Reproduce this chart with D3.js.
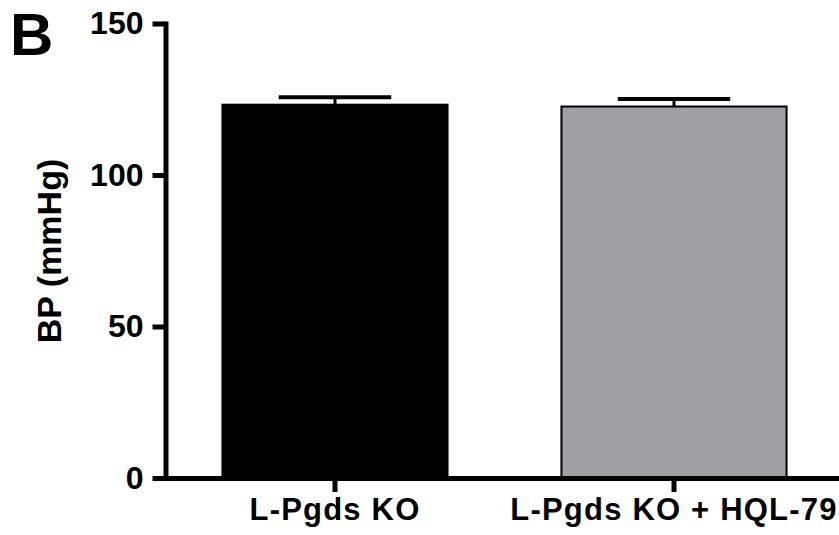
<!DOCTYPE html>
<html>
<head>
<meta charset="utf-8">
<script src="https://cdn.jsdelivr.net/npm/d3@7"></script>
<style>
  body { margin: 0; background: #fff; }
  text { font-family: "Liberation Sans", Arial, sans-serif; font-weight: bold; }
</style>
</head>
<body>
<div id="graphic"></div>
<script>
const groups = ["L-Pgds KO", "L-Pgds KO + HQL-79"]
const means = [123.2, 122.6]
const sems = [2.5, 2.5]
const yTicks = [0, 50, 100, 150]

const width = 839, height = 535

const svg = d3.select("#graphic")
    .append("svg")
    .attr("width", width)
    .attr("height", height)

const x = d3.scaleBand()
    .domain(groups)
    .range([165.5, 843.5])
    .paddingInner(0.336)
    .paddingOuter(0.168)

const y = d3.scaleLinear()
    .domain([0, 150])
    .range([478, 23.5])

const color = d3.scaleOrdinal()
    .domain(groups)
    .range(["#000000", "#a09fa3"])

const data = groups.map((g, i) => ({ group: g, mean: means[i], sem: sems[i] }))

// bars
svg.append("g")
    .selectAll("rect")
    .data(data)
    .join("rect")
    .attr("x", d => x(d.group))
    .attr("y", d => y(d.mean))
    .attr("width", x.bandwidth())
    .attr("height", d => y(0) - y(d.mean))
    .attr("fill", d => color(d.group))
    .attr("stroke", "#000")
    .attr("stroke-width", 2)

// error bars (upper only)
const err = svg.append("g").attr("stroke", "#000")
err.selectAll("line.stem")
    .data(data)
    .join("line")
    .attr("class", "stem")
    .attr("x1", d => x(d.group) + x.bandwidth() / 2)
    .attr("x2", d => x(d.group) + x.bandwidth() / 2)
    .attr("y1", d => y(d.mean))
    .attr("y2", d => y(d.mean + d.sem))
    .attr("stroke-width", 3)
err.selectAll("line.cap")
    .data(data)
    .join("line")
    .attr("class", "cap")
    .attr("x1", d => x(d.group) + x.bandwidth() * 0.25)
    .attr("x2", d => x(d.group) + x.bandwidth() * 0.75)
    .attr("y1", d => y(d.mean + d.sem))
    .attr("y2", d => y(d.mean + d.sem))
    .attr("stroke-width", 4)

// axes
const yAxis = svg.append("g")
    .attr("transform", "translate(165.5,0)")
    .call(d3.axisLeft(y).tickValues(yTicks).tickSize(13).tickPadding(9).tickSizeOuter(0))
yAxis.selectAll("path, line").attr("stroke", "#000").attr("stroke-width", 5)
yAxis.select("path").attr("stroke-linecap", "square")
yAxis.selectAll("text")
    .attr("font-size", "32px")
    .attr("fill", "#000")
    .attr("font-family", "Liberation Sans, Arial, sans-serif")
    .attr("font-weight", "bold")

const xAxis = svg.append("g")
    .attr("transform", "translate(0,478)")
    .call(d3.axisBottom(x).tickSize(14).tickPadding(6).tickSizeOuter(0))
xAxis.selectAll("path, line").attr("stroke", "#000").attr("stroke-width", 5)
xAxis.selectAll("text")
    .attr("font-size", "31px")
    .attr("letter-spacing", "1.2px")
    .attr("fill", "#000")
    .attr("font-family", "Liberation Sans, Arial, sans-serif")
    .attr("font-weight", "bold")

// y label
svg.append("text")
    .attr("transform", "translate(61,251) rotate(-90)")
    .attr("text-anchor", "middle")
    .attr("font-size", "34px")
    .text("BP (mmHg)")

// panel letter
svg.append("text")
    .attr("x", 10)
    .attr("y", 55)
    .attr("font-size", "60px")
    .text("B")
</script>
</body>
</html>
